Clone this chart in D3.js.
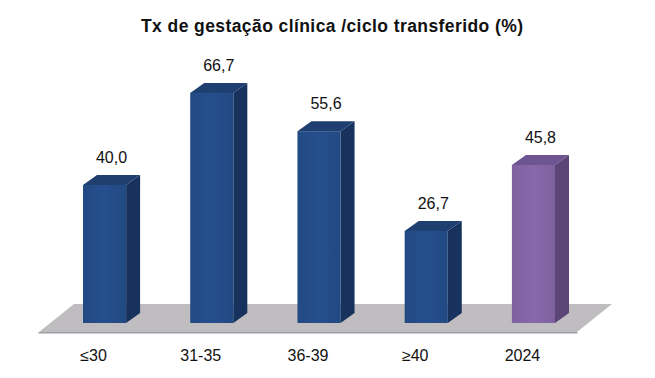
<!DOCTYPE html>
<html><head><meta charset="utf-8">
<script src="https://cdn.jsdelivr.net/npm/d3@7"></script>
<style>body{margin:0;background:#fff}svg{display:block}</style>
</head><body>
<script>
const categories = ["≤30", "31-35", "36-39", "≥40", "2024"];
const values = [40.0, 66.7, 55.6, 26.7, 45.8];
const valueLabels = ["40,0", "66,7", "55,6", "26,7", "45,8"];
const title = "Tx de gestação clínica /ciclo transferido (%)";

const W = 655, H = 378;
const svg = d3.select("body").append("svg").attr("width", W).attr("height", H);
const font = "'Liberation Sans', Arial, sans-serif";

const x = d3.scaleBand().domain(categories).range([83, 555]).paddingInner(0.598).paddingOuter(0);
const y = d3.scaleLinear().domain([0, 70]).range([323, 81.5]);
const bw = x.bandwidth();
const dx = 14, dy = -10;

// floor
const fy0 = 332, fy1 = 304;
const fxl = x(categories[0]) - 44, fxr = x(categories[categories.length-1]) + bw + 22;
svg.append("path")
  .attr("d", `M${fxl},${fy0} L${fxl+35},${fy1} L${fxr+35},${fy1} L${fxr},${fy0} Z`)
  .attr("fill", "#c0bdc1");
svg.append("path")
  .attr("d", `M${fxl},${fy0} L${fxr},${fy0} L${fxr+1},${fy0+1.5} L${fxl-1},${fy0+1.5} Z`)
  .attr("fill", "#a19fa3");

const colors = categories.map((c,i) => i === categories.length-1
  ? {front:"#8466a7", side:"#5b4577", top:"#6c5590"}
  : {front:"#244d89", side:"#17325c", top:"#1f3f70"});

const defs = svg.append("defs");
colors.forEach((c,i) => {
  const g = defs.append("linearGradient").attr("id","g"+i).attr("x1","0").attr("x2","1");
  g.append("stop").attr("offset","0").attr("stop-color", d3.color(c.front).darker(0.12));
  g.append("stop").attr("offset","0.5").attr("stop-color", d3.color(c.front).brighter(0.08));
  g.append("stop").attr("offset","1").attr("stop-color", d3.color(c.front).darker(0.15));
});

const bars = svg.append("g").selectAll("g").data(categories).join("g");
bars.each(function(c, i){
  const g = d3.select(this);
  const x0 = x(c), x1 = x0 + bw, yt = y(values[i]), yb = y(0);
  g.append("path").attr("d", `M${x1},${yb} L${x1+dx},${yb+dy} L${x1+dx},${yt+dy} L${x1},${yt} Z`).attr("fill", colors[i].side);
  g.append("path").attr("d", `M${x0},${yt} L${x0+dx},${yt+dy} L${x1+dx},${yt+dy} L${x1},${yt} Z`).attr("fill", colors[i].top);
  g.append("rect").attr("x", x0).attr("y", yt).attr("width", bw).attr("height", yb-yt).attr("fill", `url(#g${i})`);
  g.append("text").attr("x", x0 + bw/2 + dx/2).attr("y", yt + dy - 12)
    .attr("text-anchor","middle").attr("font-family", font).attr("font-size", 16).attr("fill","#111")
    .text(valueLabels[i]);
});

svg.append("g").selectAll("text").data(categories).join("text")
  .attr("x", c => x(c) + bw/2 - 11).attr("y", 361)
  .attr("text-anchor","middle").attr("font-family", font).attr("font-size", 16).attr("fill","#111")
  .text(c => c);

svg.append("text").attr("x", 332).attr("y", 32).attr("text-anchor","middle")
  .attr("font-family", font).attr("font-weight","bold").attr("font-size", 17.5).attr("fill","#111")
  .attr("textLength", 382).attr("lengthAdjust", "spacing")
  .text(title);
</script>
</body></html>
